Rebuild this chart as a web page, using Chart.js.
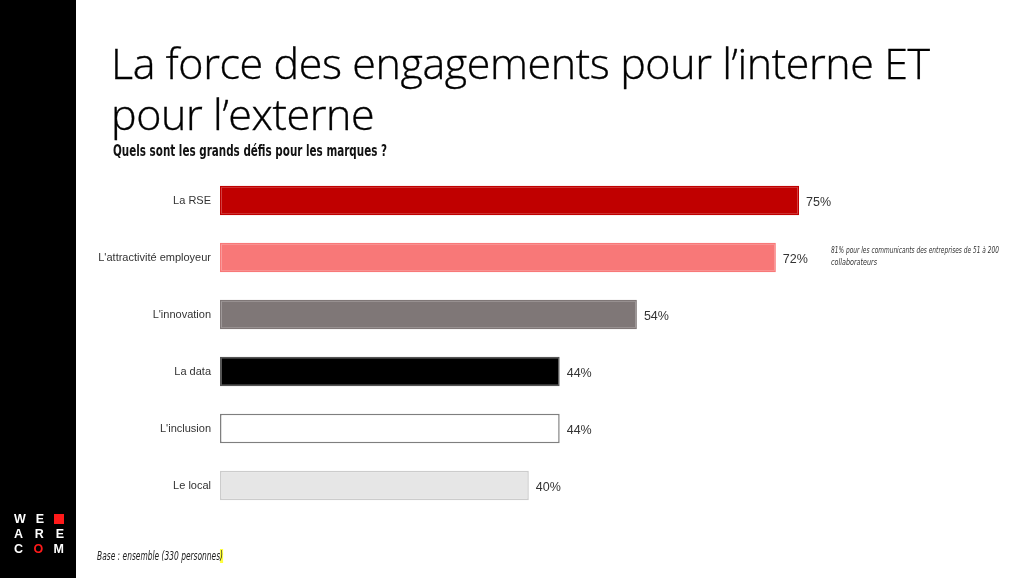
<!DOCTYPE html>
<html>
<head>
<meta charset="utf-8">
<script src="https://cdn.jsdelivr.net/npm/chart.js@4/dist/chart.umd.min.js"></script>
<style>
  html, body { margin: 0; padding: 0; background: #fff; }
  body { width: 1024px; height: 578px; position: relative; overflow: hidden; font-family: "Open Sans", "Liberation Sans", sans-serif; }
  #strip { position: absolute; left: 0; top: 0; width: 76px; height: 578px; background: #000; }
  #chartWrap { position: absolute; left: 0; top: 0; width: 1024px; height: 578px; }
  #title { position: absolute; left: 111px; top: 37px; font-size: 43px; line-height: 51px; font-weight: 300; color: #000; letter-spacing: -0.4px; white-space: nowrap; -webkit-text-stroke: 0.35px #000; }
  .cond { position: absolute; white-space: nowrap; transform-origin: left top; font-family: "DejaVu Sans", sans-serif; }
  #subtitle { left: 113px; top: 142px; font-weight: bold; font-size: 15px; color: #111; }
  #note1 { left: 831px; top: 244px; font-style: italic; font-size: 9.5px; color: #333; }
  #note2 { left: 831px; top: 256px; font-style: italic; font-size: 9.5px; color: #333; }
  #base { left: 97px; top: 549px; font-style: italic; font-size: 12px; color: #222; }
  #base span { background: #ffff40; }
  #logo { position: absolute; left: 14px; top: 512px; color: #fff; font-family: "Liberation Sans", Arial, sans-serif; font-weight: bold; font-size: 12.5px; line-height: 15px; }
  #logo div { display: flex; width: 50px; justify-content: space-between; }
  #logo .sq { display: inline-block; width: 10px; height: 10px; background: #ff1a1a; margin-top: 2px; }
  #logo .o { color: #ff1a1a; }
</style>
</head>
<body>
<div id="strip"></div>
<div id="chartWrap"><canvas id="c" width="1024" height="578"></canvas></div>
<div id="title">La force des engagements pour l’interne ET<br>pour l’externe</div>
<div id="subtitle" class="cond" data-w="274">Quels sont les grands défis pour les marques ?</div>
<div id="note1" class="cond" data-w="168">81% pour les communicants des entreprises de 51 à 200</div>
<div id="note2" class="cond" data-w="46">collaborateurs</div>
<div id="base" class="cond" data-w="126">Base : ensemble (330 personnes<span>)</span></div>
<div id="logo">
  <div><span>W</span><span>E</span><span class="sq"></span></div>
  <div><span>A</span><span>R</span><span>E</span></div>
  <div><span>C</span><span class="o">O</span><span>M</span></div>
</div>
<script>
document.querySelectorAll('.cond').forEach(el => {
  const target = parseFloat(el.dataset.w);
  const w = el.getBoundingClientRect().width;
  if (w > 0) el.style.transform = 'scaleX(' + (target / w) + ')';
});

const categories = ["La RSE", "L'attractivité employeur", "L'innovation", "La data", "L'inclusion", "Le local"];
const values = [75, 72, 54, 44, 44, 40];
const valueLabels = ["75%", "72%", "54%", "44%", "44%", "40%"];
const barColors = ["#c00000", "#f87878", "#7f7777", "#000000", "#ffffff", "#e6e6e6"];
const barBorders = ["#c00000", "#f87878", "#7f7777", "#555555", "#7f7f7f", "#cccccc"];

const valueLabelPlugin = {
  id: 'valueLabels',
  afterDatasetsDraw(chart) {
    const ctx = chart.ctx;
    const meta = chart.getDatasetMeta(0);
    ctx.save();
    ctx.font = '12.5px "Liberation Sans", Arial, sans-serif';
    ctx.fillStyle = '#333';
    ctx.textBaseline = 'middle';
    ctx.textAlign = 'left';
    meta.data.forEach((bar, i) => {
      ctx.fillText(valueLabels[i], bar.x + 7, bar.y + 2);
    });
    ctx.restore();
  }
};

new Chart(document.getElementById('c'), {
  type: 'bar',
  data: {
    labels: categories,
    datasets: [{
      data: values,
      backgroundColor: barColors,
      borderColor: barBorders,
      borderWidth: 1.5,
      borderSkipped: false,
      categoryPercentage: 1,
      barPercentage: 0.52
    }]
  },
  options: {
    indexAxis: 'y',
    responsive: false,
    animation: false,
    layout: { padding: { left: 0, right: 32, top: 172, bottom: 64 } },
    plugins: { legend: { display: false }, tooltip: { enabled: false } },
    scales: {
      x: { display: false, min: 0, max: 100 },
      y: {
        grid: { display: false, drawTicks: false },
        border: { display: false },
        ticks: { color: '#333', font: { family: '"Liberation Sans", Arial, sans-serif', size: 11 }, padding: 9 },
        afterFit(scale) { scale.width = 220; }
      }
    }
  },
  plugins: [valueLabelPlugin]
});
</script>
</body>
</html>
